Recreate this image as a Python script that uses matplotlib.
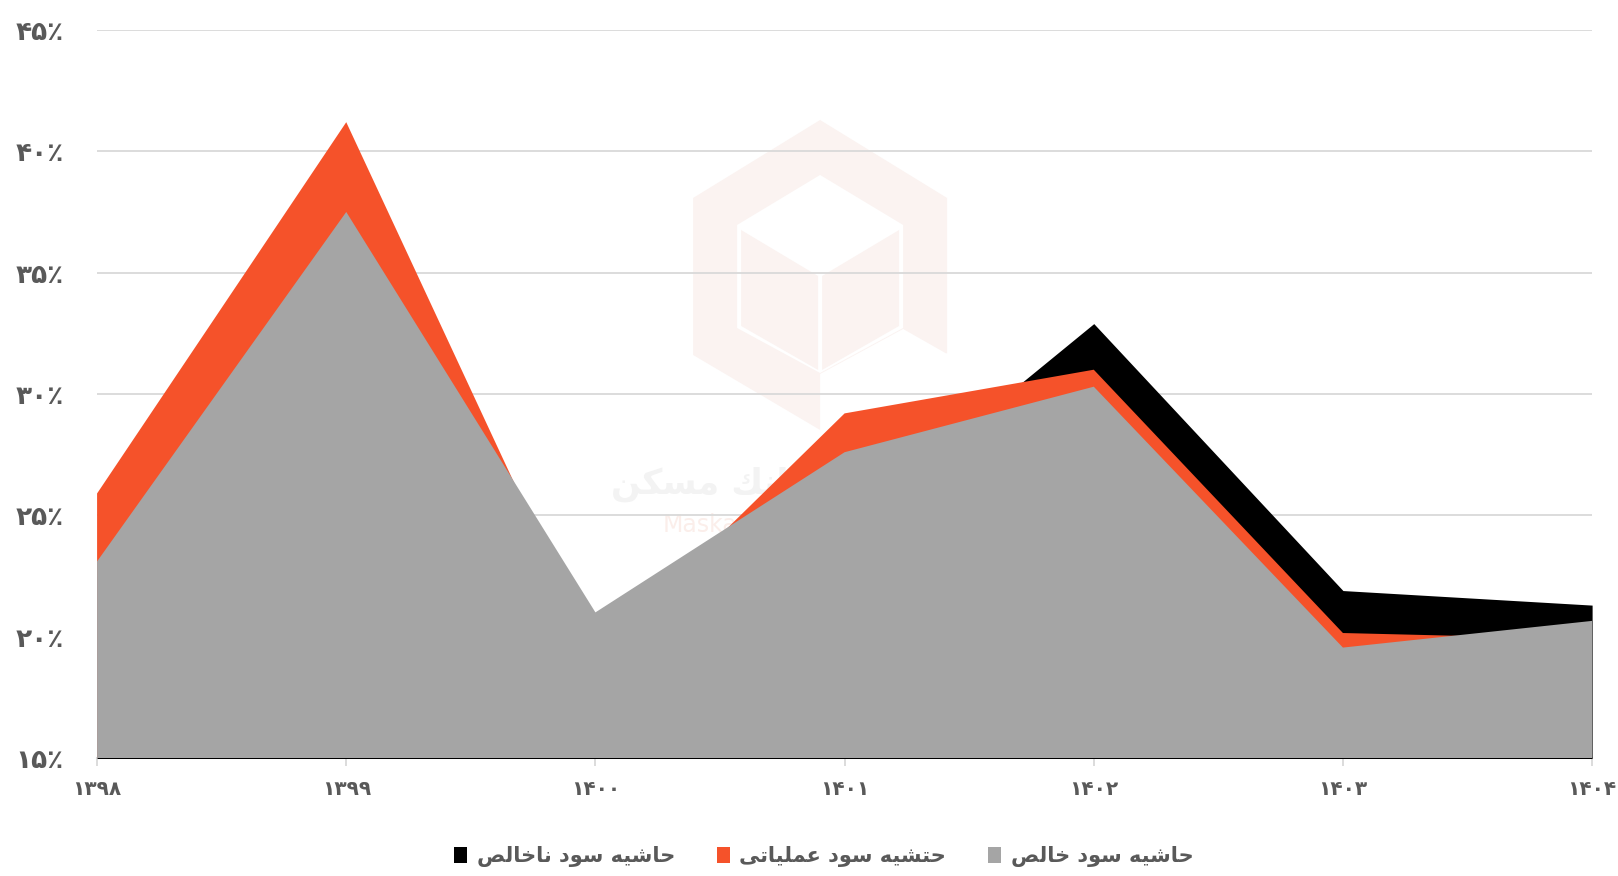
# -*- coding: utf-8 -*-
"""
Profit margins area chart (Persian labels)
"""

import numpy as np
import matplotlib.pyplot as plt
from matplotlib.patches import Polygon, Patch

#%% Data

years       = ['۱۳۹۸', '۱۳۹۹', '۱۴۰۰', '۱۴۰۱', '۱۴۰۲', '۱۴۰۳', '۱۴۰۴']
gross       = [22.5, 36.0, 20.5, 24.5, 32.9, 21.9, 21.3]    # black (hidden parts estimated)
operating   = [25.9, 41.2, 19.15, 29.2, 31.0, 20.15, 19.9]  # orange
net         = [23.1, 37.5, 21.0, 27.6, 30.3, 19.55, 20.65]  # gray

y_ticks     = [15, 20, 25, 30, 35, 40, 45]
y_labels    = ['۱۵٪', '۲۰٪', '۲۵٪', '۳۰٪', '۳۵٪', '۴۰٪', '۴۵٪']

names       = ['حاشیه سود ناخالص', 'حتشیه سود عملیاتی', 'حاشیه سود خالص']
colors      = ['#000000', '#f5522a', '#a5a5a5']

#%% Simple Persian shaping (matplotlib has no RTL support)

FORMS = {
    'ا': ('\uFE8D', '\uFE8E', None, None),
    'ب': ('\uFE8F', '\uFE90', '\uFE91', '\uFE92'),
    'ت': ('\uFE95', '\uFE96', '\uFE97', '\uFE98'),
    'ح': ('\uFEA1', '\uFEA2', '\uFEA3', '\uFEA4'),
    'خ': ('\uFEA5', '\uFEA6', '\uFEA7', '\uFEA8'),
    'د': ('\uFEA9', '\uFEAA', None, None),
    'س': ('\uFEB1', '\uFEB2', '\uFEB3', '\uFEB4'),
    'ش': ('\uFEB5', '\uFEB6', '\uFEB7', '\uFEB8'),
    'ص': ('\uFEB9', '\uFEBA', '\uFEBB', '\uFEBC'),
    'ع': ('\uFEC9', '\uFECA', '\uFECB', '\uFECC'),
    'ک': ('\uFED9', '\uFEDA', '\uFEDB', '\uFEDC'),
    'ل': ('\uFEDD', '\uFEDE', '\uFEDF', '\uFEE0'),
    'م': ('\uFEE1', '\uFEE2', '\uFEE3', '\uFEE4'),
    'ن': ('\uFEE5', '\uFEE6', '\uFEE7', '\uFEE8'),
    'ه': ('\uFEE9', '\uFEEA', '\uFEEB', '\uFEEC'),
    'و': ('\uFEED', '\uFEEE', None, None),
    'ی': ('\uFEEF', '\uFEF0', '\uFEF3', '\uFEF4'),
}


def fa(text):
    out = []
    for i, ch in enumerate(text):
        if ch not in FORMS:
            out.append(ch)
            continue
        prev = text[i - 1] if i > 0 else ''
        nxt = text[i + 1] if i + 1 < len(text) else ''
        join_prev = prev in FORMS and FORMS[prev][2] is not None
        join_next = nxt in FORMS and FORMS[ch][2] is not None
        iso, fin, ini, med = FORMS[ch]
        if join_prev and join_next:
            out.append(med)
        elif join_prev:
            out.append(fin)
        elif join_next:
            out.append(ini)
        else:
            out.append(iso)
    return ''.join(reversed(out))


#%% Plot

plt.rcParams['font.family'] = ['DejaVu Sans']
text_col = '#595959'
grid_col = '#d9d9d9'

fig = plt.figure(figsize=(16.18, 8.76), dpi=100)
ax = fig.add_axes([0.060, 0.1347, 0.924, 0.8311])

x = np.arange(len(years))

# watermark logo (axes coords)
W, H, L, B = 1495.0, 728.0, 97.0, 758.0
def px(pts):
    return [((X - L) / W, (B - Y) / H) for X, Y in pts]

pink = '#fbf3f1'
outer = px([(820, 120), (947, 198), (947, 353), (820, 430), (693, 355), (693, 198)])
inner = px([(820, 175), (903, 225), (903, 328), (820, 373), (737, 328), (737, 225)])
cut = px([(820, 374), (903, 329), (947, 354), (950, 440), (820, 440)])
left_face = px([(741, 230), (818, 276), (818, 370), (741, 326)])
right_face = px([(822, 276), (899, 230), (899, 326), (822, 370)])
for pts, c in [(outer, pink), (inner, 'white'), (cut, 'white'),
               (left_face, pink), (right_face, pink)]:
    ax.add_patch(Polygon(pts, closed=True, facecolor=c, edgecolor='none',
                         transform=ax.transAxes, zorder=0.1))
ax.text((707 - L) / W, (B - 484) / H, fa('بانک مسکن'), transform=ax.transAxes,
        ha='center', va='center', fontsize=25, fontweight='bold', color='#f3f3f3', zorder=0.2)
ax.text((707 - L) / W, (B - 525) / H, 'Maskan', transform=ax.transAxes,
        ha='center', va='center', fontsize=17, color='#fbeeea', zorder=0.2)

# areas, drawn back to front
for vals, c in zip([gross, operating, net], colors):
    ax.fill_between(x, vals, 0, color=c, linewidth=0, zorder=2)

ax.set_xlim(0, len(years) - 1)
ax.set_ylim(15, 45)

ax.set_yticks(y_ticks)
ax.set_yticklabels(y_labels)
ax.set_xticks(x)
ax.set_xticklabels(years)

ax.set_axisbelow(True)
ax.yaxis.grid(True, color=grid_col, linewidth=1.3, zorder=0.5)
for s in ['top', 'right', 'left']:
    ax.spines[s].set_visible(False)
ax.spines['bottom'].set_color(grid_col)
ax.spines['bottom'].set_linewidth(1.5)
ax.spines['bottom'].set_zorder(1)

ax.tick_params(axis='y', length=0, pad=24, labelsize=19, labelcolor=text_col)
ax.tick_params(axis='x', length=6, width=1.3, color=grid_col, pad=10,
               labelsize=14.5, labelcolor=text_col)
for lab in ax.get_xticklabels() + ax.get_yticklabels():
    lab.set_fontweight('bold')

# legend
handles = [Patch(facecolor=c, edgecolor='none', label=fa(n)) for n, c in zip(names, colors)]
leg = fig.legend(handles=handles, loc='center', bbox_to_anchor=(0.509, 0.022), ncol=3,
                 frameon=False, handlelength=0.65, handleheight=0.8,
                 handletextpad=0.45, columnspacing=2.0,
                 prop={'weight': 'bold', 'size': 15})
for t in leg.get_texts():
    t.set_color(text_col)

plt.savefig('out.png', dpi=100)
